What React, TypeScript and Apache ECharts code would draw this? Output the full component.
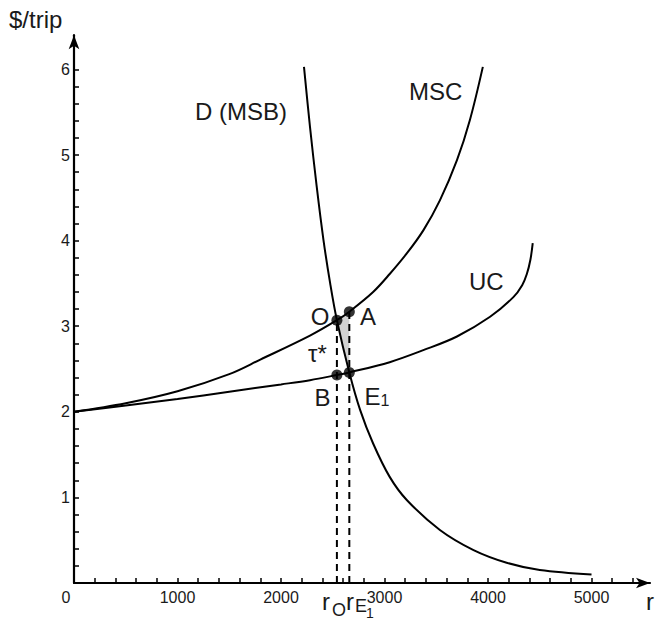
import React, { useEffect, useRef } from "react";
import * as echarts from "echarts";

// User cost curve (UC)
const ucR = [0, 500, 1000, 1500, 2000, 2280, 2540, 2660, 3050, 3375, 3700, 4020, 4245, 4330, 4375, 4410, 4432];
const ucV = [2.0, 2.075, 2.15, 2.235, 2.32, 2.37, 2.43, 2.46, 2.58, 2.72, 2.88, 3.11, 3.34, 3.48, 3.61, 3.78, 3.97];

// Marginal social cost (MSC)
const mscR = [0, 500, 1000, 1500, 1800, 2280, 2540, 2660, 2890, 3050, 3215, 3375, 3535, 3700, 3825, 3950];
const mscV = [2.0, 2.1, 2.24, 2.44, 2.61, 2.89, 3.07, 3.17, 3.4, 3.61, 3.85, 4.12, 4.47, 4.94, 5.41, 6.03];

// Demand D (MSB)
const dR = [2222, 2280, 2345, 2410, 2475, 2540, 2660, 2765, 2890, 3050, 3215, 3535, 3860, 4180, 4500, 5000];
const dV = [6.03, 5.33, 4.63, 4.01, 3.5, 3.07, 2.46, 2.02, 1.63, 1.24, 0.97, 0.62, 0.385, 0.237, 0.152, 0.1];

// Marked points O, A, B, E1
const ptNames = ["O", "A", "B", "E1"];
const ptR = [2540, 2660, 2540, 2660];
const ptV = [3.07, 3.17, 2.43, 2.46];

// Axis ticks & labels
const xTickVals = [200, 400, 600, 800, 1000, 1200, 1400, 1600, 1800, 2000, 2200, 2400, 2600, 2800, 3000, 3200, 3400, 3600, 3800, 4000, 4200, 4400, 4600, 4800, 5000, 5200, 5400];
const xLabelVals = [0, 1000, 2000, 3000, 4000, 5000];
const yTickVals = [0.2, 0.4, 0.6, 0.8, 1, 1.2, 1.4, 1.6, 1.8, 2, 2.2, 2.4, 2.6, 2.8, 3, 3.2, 3.4, 3.6, 3.8, 4, 4.2, 4.4, 4.6, 4.8, 5, 5.2, 5.4, 5.6, 5.8, 6];
const yLabelVals = [1, 2, 3, 4, 5, 6];

const FONT = '"Liberation Sans", Arial, Helvetica, sans-serif';
const INK = "#1a1a1a";

const zip = (a: number[], b: number[]) => a.map((v, i) => [v, b[i]]);

export default function App() {
  const ref = useRef<HTMLDivElement>(null);
  useEffect(() => {
    if (!ref.current) return;
    const chart = echarts.init(ref.current, undefined, { renderer: "svg" });
    const O = [ptR[0], ptV[0]];
    const A = [ptR[1], ptV[1]];
    const E1 = [ptR[3], ptV[3]];
    const shade = [O, A, E1];

    const curve = (data: number[][]) => ({
      type: "line",
      data,
      smooth: 0.35,
      showSymbol: false,
      symbol: "none",
      lineStyle: { color: "#000", width: 2 },
      z: 3,
    });
    const dashed = (x: number, top: number) => ({
      type: "line",
      data: [
        [x, 0],
        [x, top],
      ],
      symbol: "none",
      lineStyle: { color: "#000", width: 2, type: [7, 5] },
      z: 2,
    });

    const txt = (text: string, x: number, y: number, size = 24, align = "left") => ({
      type: "text",
      x,
      y,
      style: {
        text,
        fontSize: size,
        fontFamily: FONT,
        fill: INK,
        align,
        verticalAlign: "middle",
      },
      z: 10,
    });

    chart.setOption({
      animation: false,
      backgroundColor: "#fff",
      grid: { left: 74, right: 5, top: 35.2, bottom: 39 },
      xAxis: {
        type: "value",
        min: 0,
        max: 5565,
        splitLine: { show: false },
        axisLine: {
          show: true,
          onZero: false,
          symbol: ["none", "arrow"],
          symbolSize: [8, 14],
          lineStyle: { color: "#000", width: 2.2 },
        },
        axisTick: {
          show: true,
          inside: true,
          length: 5,
          customValues: xTickVals,
          lineStyle: { color: "#000", width: 1.5 },
        },
        axisLabel: {
          show: true,
          customValues: xLabelVals,
          margin: 6,
          fontSize: 16,
          fontFamily: FONT,
          color: INK,
          formatter: (v: number) => (v === 0 ? "{z|0}" : String(v)),
          rich: { z: { fontSize: 16, fontFamily: FONT, color: INK, padding: [0, 16, 0, 0] } },
        },
      },
      yAxis: {
        type: "value",
        min: 0,
        max: 6.4,
        splitLine: { show: false },
        axisLine: {
          show: true,
          onZero: false,
          symbol: ["none", "arrow"],
          symbolSize: [8, 14],
          lineStyle: { color: "#000", width: 2.2 },
        },
        axisTick: {
          show: true,
          inside: true,
          length: 5,
          customValues: yTickVals,
          lineStyle: { color: "#000", width: 1.5 },
        },
        axisLabel: {
          show: true,
          customValues: yLabelVals,
          margin: 4,
          fontSize: 16,
          fontFamily: FONT,
          color: INK,
        },
      },
      series: [
        {
          type: "custom",
          data: [0],
          z: 1,
          renderItem: (_p: any, api: any) => ({
            type: "polygon",
            shape: { points: shade.map((p) => api.coord(p)) },
            style: { fill: "#d2d2d2" },
          }),
        },
        dashed(ptR[0], ptV[0]),
        dashed(ptR[1], ptV[1]),
        curve(zip(ucR, ucV)),
        curve(zip(mscR, mscV)),
        curve(zip(dR, dV)),
        {
          type: "scatter",
          data: ptR.map((r, i) => ({ name: ptNames[i], value: [r, ptV[i]] })),
          symbolSize: 11,
          itemStyle: { color: "#000" },
          z: 5,
        },
      ],
      graphic: [
        txt("$/trip", 9, 19.4),
        txt("D (MSB)", 195, 111.7),
        txt("MSC", 409, 91.7),
        txt("UC", 469, 281.7),
        txt("O", 320, 316, 24, "center"),
        txt("A", 368, 316, 24, "center"),
        txt("τ*", 308, 353.4),
        txt("B", 322.5, 397, 24, "center"),
        txt("E", 372.5, 396, 24, "center"),
        txt("1", 385, 400.5, 16, "center"),
        txt("r", 322, 601.4),
        txt("O", 332, 610, 18),
        txt("r", 346, 601.4),
        txt("E", 355, 606, 18),
        txt("1", 366, 612.5, 14),
        txt("r", 646, 601.4),
      ],
    });
    return () => chart.dispose();
  }, []);
  return (
    <div
      ref={ref}
      style={{ position: "fixed", left: 0, top: 0, width: 655, height: 622, background: "#fff" }}
    />
  );
}
